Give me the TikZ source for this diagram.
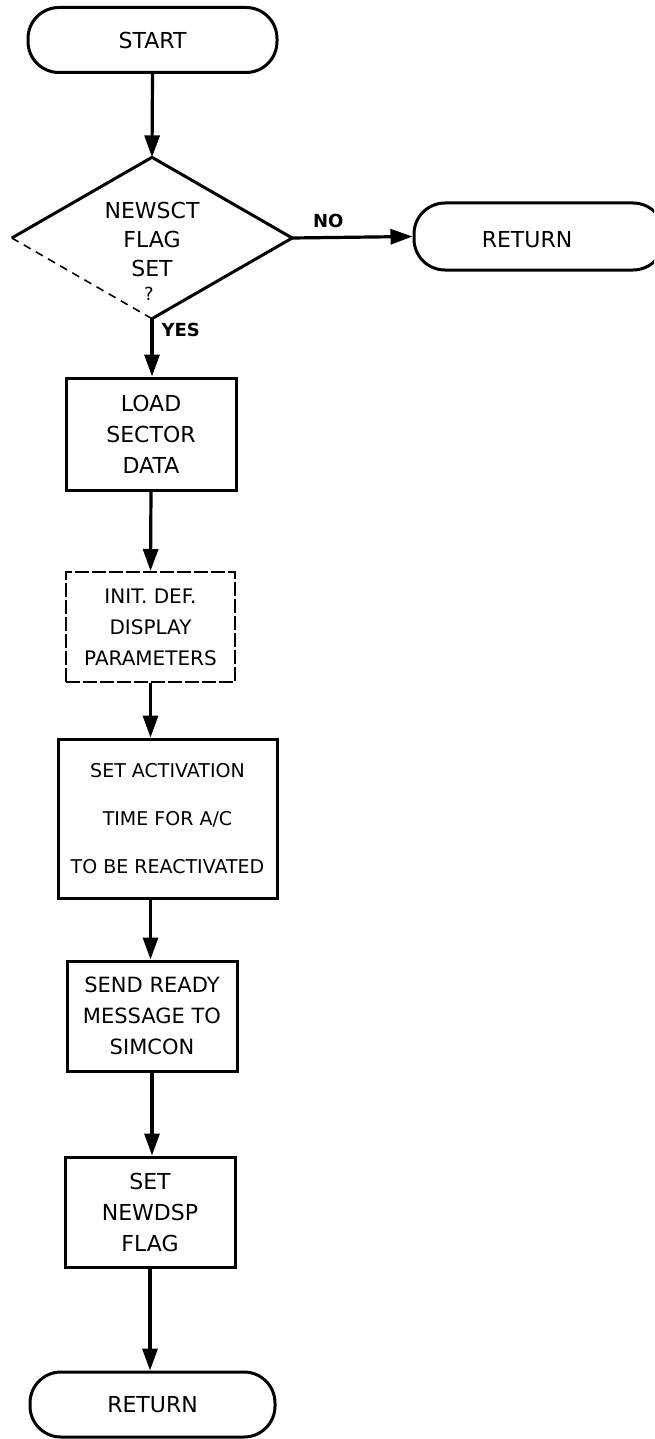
\documentclass[tikz,border=0pt]{standalone}
\usepackage{fontspec}
\setmainfont{DejaVu Sans}
\usetikzlibrary{arrows.meta,shapes.geometric}
\begin{document}
\begin{tikzpicture}[x=1pt,y=-1pt,
  every node/.style={font=\fontsize{22}{31}\selectfont, align=center, inner sep=0pt},
  term/.style={draw, line width=3pt, rounded corners=31pt},
  procbox/.style={draw, line width=3pt},
  faintbox/.style={draw, line width=2pt, dash pattern=on 14pt off 3pt},
  flow/.style={line width=3.2pt, -{Triangle[length=22pt,width=15pt]}},
  lbl/.style={font=\fontsize{18}{20}\selectfont\bfseries}
]
\useasboundingbox (0,0) rectangle (654,1439);
\clip (0,0) rectangle (654,1439);

% start terminal
\node[term, minimum width=249pt, minimum height=65pt] (start) at (152.5,40) {START};

% decision: drawn edge by edge, lower-left edge is faint
\node[diamond, minimum width=280pt, minimum height=161pt] (dec) at (152,238) {};
\node[font=\fontsize{22}{29}\selectfont] (dectext) at (152,239) {NEWSCT\\ FLAG\\ SET};
\node[font=\fontsize{18}{20}\selectfont] (decq) at (149,294) {?};
\draw[line width=3pt, line join=round] (dec.west) -- (dec.north) -- (dec.east) -- (dec.south);
\draw[line width=1.6pt, dash pattern=on 8pt off 6pt] (dec.south) -- (dec.west);

% early exit terminal (runs past the right edge)
\node[term, minimum width=250pt, minimum height=67pt,
      label={[xshift=-12pt, yshift=-3pt]center:RETURN}] (ret1) at (539,236.5) {};

% process boxes
\node[procbox, minimum width=170pt, minimum height=112pt] (load) at (151,434)
  {LOAD\\ SECTOR\\ DATA};
\node[faintbox, minimum width=169pt, minimum height=110pt,
      font=\fontsize{20}{31}\selectfont] (init) at (150.5,627)
  {INIT. DEF.\\ DISPLAY\\ PARAMETERS};
\node[procbox, minimum width=219pt, minimum height=159pt,
      font=\fontsize{19}{48}\selectfont] (act) at (167.5,818.5)
  {SET ACTIVATION\\ TIME FOR A/C\\ TO BE REACTIVATED};
\node[procbox, minimum width=170pt, minimum height=110pt,
      font=\fontsize{21}{31}\selectfont] (send) at (152,1016)
  {SEND READY\\ MESSAGE TO\\ SIMCON};
\node[procbox, minimum width=170pt, minimum height=110pt] (flag) at (150,1212)
  {SET\\ NEWDSP\\ FLAG};

% final terminal
\node[term, minimum width=245pt, minimum height=65pt] (ret2) at (152.5,1404.5) {RETURN};

% connectors
\draw[flow] (start.south) -- (dec.north);
\draw[flow] (dec.east) -- (ret1.west) node[lbl, pos=0.3, above=8pt] {NO};
\draw[flow] (dec.south) -- (dec.south |- load.north) node[lbl, pos=0.2, right=8pt] {YES};
\draw[flow] (load.south) -- (init.north);
\draw[flow] (init.south) -- (init.south |- act.north);
\draw[flow] (init.south |- act.south) -- (init.south |- send.north);
\draw[flow] (send.south) -- (send.south |- flag.north);
\draw[flow] (flag.south) -- (flag.south |- ret2.north);
\end{tikzpicture}
\end{document}
